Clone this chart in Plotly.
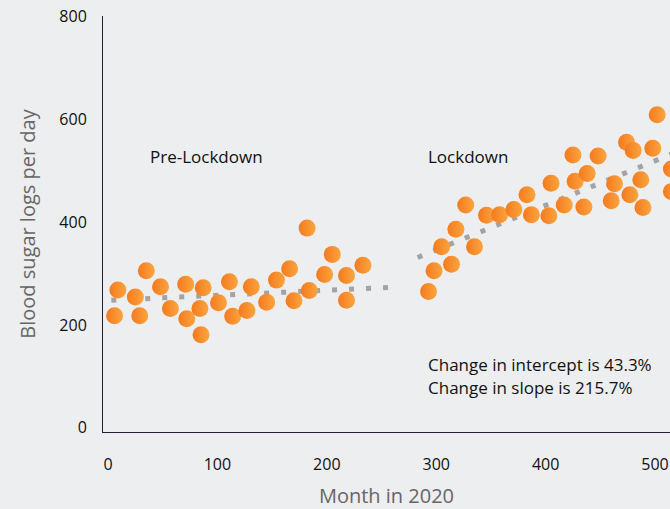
import plotly.graph_objects as go

# Pre-lockdown observations
pre_x = [6, 9, 25, 29, 35, 48, 57, 71, 72, 84, 85, 87, 101, 111, 114, 127, 131,
         145, 154, 166, 170, 182, 184, 198, 205, 218, 218, 233]
pre_y = [218, 268, 254, 218, 305, 274, 232, 279, 212, 232, 181, 272, 243, 284, 217,
         228, 274, 244, 287, 309, 247, 388, 267, 298, 337, 296, 248, 316]

# Lockdown observations
lock_x = [293, 298, 305, 314, 318, 327, 335, 346, 358, 371, 383, 387, 403, 405, 417,
          425, 427, 435, 438, 448, 460, 463, 474, 480, 477, 487, 489, 498, 502, 515, 515]
lock_y = [265, 305, 352, 318, 386, 433, 352, 413, 414, 424, 453, 414, 412, 475, 433,
          530, 479, 429, 494, 528, 441, 474, 555, 539, 453, 482, 428, 543, 608, 503, 459]

# Fitted trend lines (endpoints)
pre_trend_x = [3, 258]
pre_trend_y = [248, 273]
lock_trend_x = [283, 520]
lock_trend_y = [331, 536]

x_ticks = [0, 100, 200, 300, 400, 500]
y_ticks = [0, 200, 400, 600, 800]

FONT = "Open Sans"
dot = dict(color="#A3A3A3", width=5, dash="5px,12px")
marker = dict(size=17, color="#F47A1F",
              gradient=dict(type="horizontal", color="#FBA53F"),
              line=dict(width=0))

fig = go.Figure()
fig.add_trace(go.Scatter(x=pre_trend_x, y=pre_trend_y, mode="lines", line=dot,
                         hoverinfo="skip"))
fig.add_trace(go.Scatter(x=lock_trend_x, y=lock_trend_y, mode="lines", line=dot,
                         hoverinfo="skip"))
fig.add_trace(go.Scatter(x=pre_x, y=pre_y, mode="markers", marker=marker))
fig.add_trace(go.Scatter(x=lock_x, y=lock_y, mode="markers", marker=marker))

txt = dict(family=FONT, size=17, color="#111111")
fig.add_annotation(x=36.5, y=527, text="Pre-Lockdown", showarrow=False,
                   xanchor="left", yanchor="middle", font=txt)
fig.add_annotation(x=290.6, y=527, text="Lockdown", showarrow=False,
                   xanchor="left", yanchor="middle", font=txt)
fig.add_annotation(x=290.6, y=124, text="Change in intercept is 43.3%", showarrow=False,
                   xanchor="left", yanchor="middle", font=txt)
fig.add_annotation(x=290.6, y=78, text="Change in slope is 215.7%", showarrow=False,
                   xanchor="left", yanchor="middle", font=txt)

fig.update_layout(
    width=670, height=509,
    margin=dict(l=103, r=0, t=16, b=77),
    paper_bgcolor="#EDEEF0", plot_bgcolor="#EDEEF0",
    showlegend=False,
    font=dict(family=FONT, size=16, color="#111111"),
    xaxis=dict(range=[-4.6, 513.7], tickvals=x_ticks, showgrid=False, zeroline=False,
               showline=True, linecolor="#2B1A3A", linewidth=1, ticks="",
               ticklabelstandoff=18,
               title=dict(text="Month in 2020", font=dict(family=FONT, size=20, color="#666666"),
                          standoff=16)),
    yaxis=dict(range=[-8, 800], tickvals=y_ticks, showgrid=False, zeroline=False,
               showline=True, linecolor="#2B1A3A", linewidth=1, ticks="",
               ticklabelstandoff=12,
               title=dict(text="Blood sugar logs per day",
                          font=dict(family=FONT, size=20, color="#666666"), standoff=18)),
)

fig.write_html("out.html", config={"displayModeBar": False},
               post_script="document.body.style.margin='0px';"
                           "document.body.style.background='#EDEEF0';")
